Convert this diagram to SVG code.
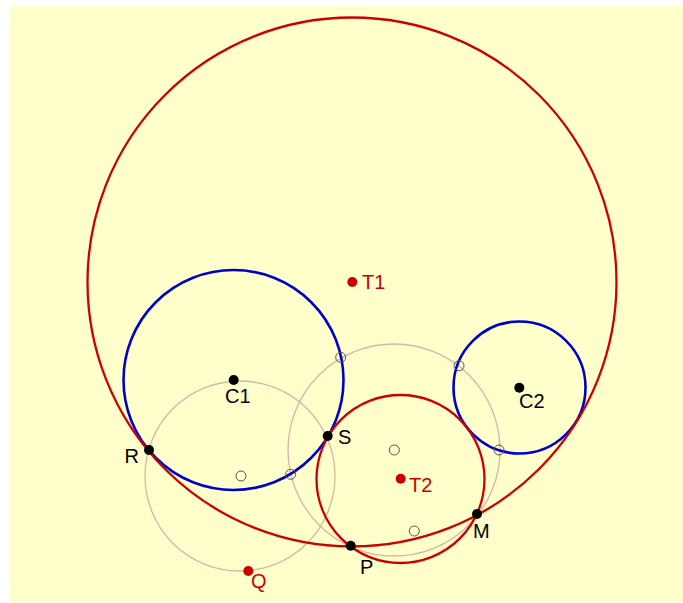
<svg xmlns="http://www.w3.org/2000/svg" width="683" height="603" viewBox="0 0 683 603">
<style>
.bg{fill:#ffffcc}
.tan{fill:none;stroke:#d8b4a8;stroke-width:1.3}
.blue{fill:none;stroke:#0000cc;stroke-width:2.6}
.red{fill:none;stroke:#cc0000;stroke-width:2.3}
.pt{fill:#000000}
.rpt{fill:#cc0000}
.hol{fill:none;stroke:#555555;stroke-width:1}
text{font-family:"Liberation Sans",Arial,sans-serif;font-size:20px}
.lb{fill:#000000}
.lr{fill:#cc0000}
</style>
<rect class="bg" x="10" y="6" width="673" height="596"/>
<g id="connectors">
<circle id="tan1" class="tan" cx="240" cy="476" r="95"/>
<circle id="tan2" class="tan" cx="394" cy="450" r="106"/>
<circle id="circleC1" class="blue" cx="233.5" cy="380" r="110"/>
<circle id="circleC2" class="blue" cx="519.5" cy="387.5" r="66"/>
<circle id="circleT1" class="red" cx="352" cy="282" r="264.5"/>
<circle id="circleT2" class="red" cx="400.5" cy="479" r="84"/>
</g>
<g id="hollow">
<circle class="hol" cx="340.7" cy="357.3" r="5"/>
<circle class="hol" cx="459" cy="365.7" r="5"/>
<circle class="hol" cx="499" cy="450" r="5"/>
<circle class="hol" cx="394.3" cy="450" r="5"/>
<circle class="hol" cx="414.3" cy="531" r="5"/>
<circle class="hol" cx="241" cy="476" r="5"/>
<circle class="hol" cx="290.7" cy="474.3" r="5"/>
</g>
<g id="T1"><circle class="rpt" cx="352.3" cy="282" r="5"/><text class="lr" x="362" y="289">T1</text></g>
<g id="T2"><circle class="rpt" cx="400.7" cy="478.7" r="5"/><text class="lr" x="409" y="491.5">T2</text></g>
<g id="Q"><circle class="rpt" cx="248.3" cy="571" r="5"/><text class="lr" x="251" y="588">Q</text></g>
<g id="C1"><circle class="pt" cx="233.7" cy="380" r="5"/><text class="lb" x="225" y="403">C1</text></g>
<g id="C2"><circle class="pt" cx="519.3" cy="387.7" r="5"/><text class="lb" x="519" y="407.5">C2</text></g>
<g id="R"><circle class="pt" cx="149" cy="450" r="5"/><text class="lb" x="124.5" y="462.5">R</text></g>
<g id="S"><circle class="pt" cx="327.7" cy="436" r="5"/><text class="lb" x="338" y="444">S</text></g>
<g id="P"><circle class="pt" cx="350.7" cy="545.7" r="5"/><text class="lb" x="360" y="574">P</text></g>
<g id="M"><circle class="pt" cx="477" cy="514" r="5"/><text class="lb" x="473" y="538">M</text></g>
</svg>
